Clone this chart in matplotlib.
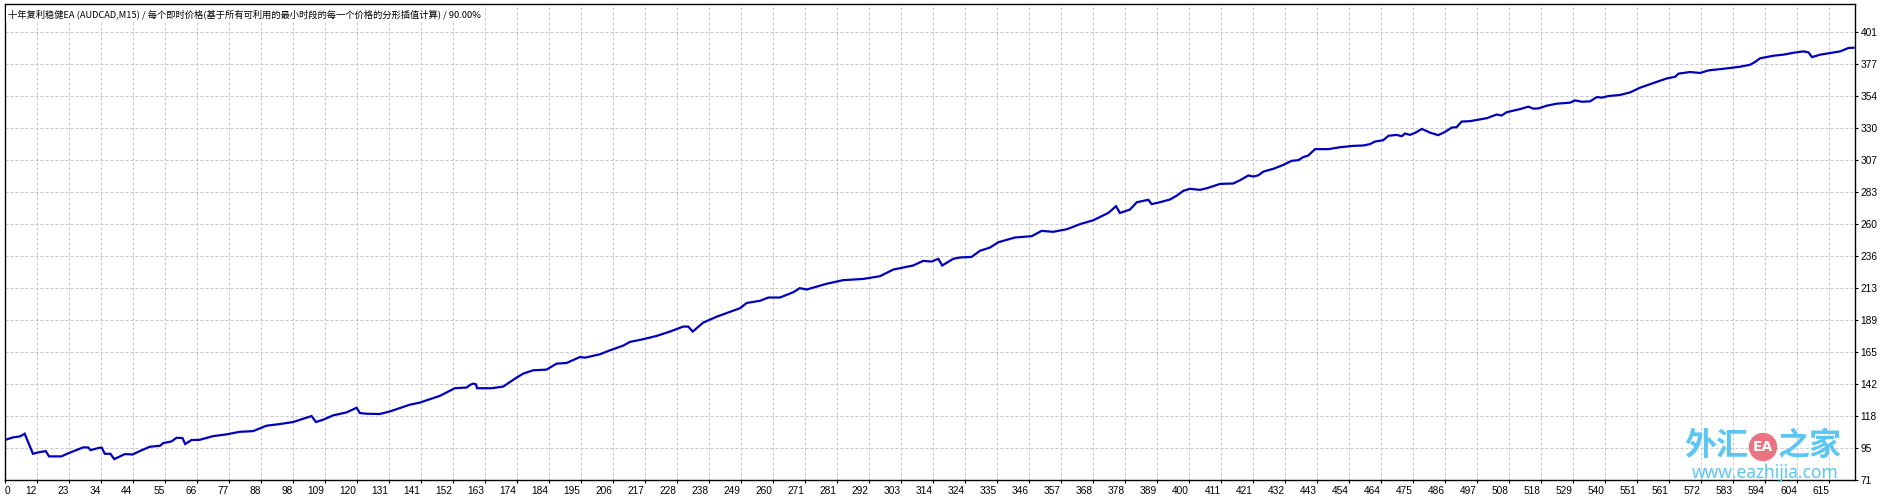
import numpy as np
import matplotlib
matplotlib.use("Agg")
import matplotlib.pyplot as plt
from matplotlib import font_manager
from matplotlib.patches import Ellipse

TITLE = "十年复利稳健EA (AUDCAD,M15) / 每个即时价格(基于所有可利用的最小时段的每一个价格的分形插值计算) / 90.00%"

# balance curve: trade number -> balance
trades = [0, 2.9, 5.2, 6.8, 9.6, 11.3, 13.9, 15.0, 19.2, 21.4, 26.5, 28.2, 29.0, 32.1, 32.8,
          33.8, 35.7, 37.0, 40.6, 43.2, 45.6, 49.0, 52.4, 53.5, 56.3, 58.0, 60.0, 60.9, 63.0,
          65.8, 70.3, 74.8, 79.3, 83.8, 88.3, 92.8, 97.3, 103.5, 105.0, 107.4, 110.8, 115.3,
          118.7, 119.8, 122.1, 126.5, 129.9, 133.3, 136.7, 140.0, 143.4, 146.8, 149.5, 151.8,
          155.8, 156.9, 158.0, 158.9, 159.3, 164.2, 168.1, 172.6, 174.9, 178.2, 182.7, 186.1,
          189.5, 194.0, 195.7, 200.7, 204.1, 208.6, 210.8, 215.3, 219.8, 224.3, 228.8, 230.5,
          232.0, 235.5, 240.1, 244.5, 247.9, 250.2, 254.7, 257.5, 261.4, 265.9, 268.1, 270.4,
          277.1, 282.7, 289.5, 295.1, 297.4, 299.6, 306.3, 309.7, 312.5, 314.8, 316.1, 319.8,
          322.1, 326.0, 328.8, 332.2, 335.0, 340.6, 346.3, 349.6, 353.5, 358.1, 362.5, 367.0,
          372.1, 374.7, 376.0, 379.4, 381.7, 385.6, 386.7, 389.5, 392.9, 395.2, 397.4, 399.6,
          403.0, 405.3, 409.8, 414.2, 416.5, 419.3, 421.0, 422.7, 424.4, 427.7, 431.1, 433.9,
          436.2, 437.8, 439.5, 441.8, 446.3, 450.2, 454.7, 458.1, 460.3, 462.0, 464.8, 466.5,
          469.3, 471.0, 472.1, 473.8, 475.5, 477.8, 480.5, 483.3, 485.6, 487.9, 489.5, 491.2,
          494.0, 499.7, 503.0, 504.7, 506.4, 510.9, 513.7, 515.4, 517.1, 519.9, 523.3, 527.7,
          529.4, 531.7, 534.5, 536.8, 538.4, 540.7, 544.6, 548.0, 551.4, 553.6, 558.1, 560.4,
          563.2, 564.3, 568.2, 571.6, 574.4, 579.5, 585.1, 588.5, 590.1, 591.8, 596.3, 599.7,
          603.1, 606.4, 608.1, 609.3, 612.1, 618.8, 621.6, 623.3]
balance = [100.4, 102.4, 103.1, 105.1, 90.3, 91.3, 92.3, 88.4, 88.4, 90.6, 95.0, 95.0, 93.0, 94.8, 94.8,
           90.3, 90.3, 86.4, 90.1, 89.8, 92.3, 95.5, 96.2, 98.2, 99.4, 102.1, 101.9, 97.5, 100.4,
           100.6, 103.3, 104.6, 106.5, 107.0, 111.0, 112.2, 113.7, 118.1, 113.7, 115.4, 118.6, 120.8,
           124.2, 120.3, 119.8, 119.6, 121.5, 124.0, 126.5, 128.0, 130.5, 133.0, 136.0, 138.6,
           139.1, 141.0, 142.0, 141.5, 138.6, 138.6, 139.8, 146.4, 149.4, 151.8, 152.3, 156.7,
           157.2, 161.6, 161.1, 163.6, 166.5, 170.0, 172.7, 174.7, 177.1, 180.3, 184.0, 184.0,
           180.3, 186.9, 191.3, 194.8, 197.5, 201.4, 203.0, 205.4, 205.4, 209.3, 212.3, 211.3,
           215.5, 218.2, 219.1, 221.1, 223.6, 226.0, 229.0, 232.4, 231.9, 233.9, 229.0, 233.9,
           234.9, 235.3, 239.8, 242.2, 246.1, 249.6, 250.6, 254.5, 253.8, 255.7, 259.4, 262.3,
           267.7, 272.7, 267.7, 270.2, 275.6, 277.4, 274.2, 275.6, 277.6, 280.5, 284.0, 285.5,
           284.7, 285.9, 289.1, 289.4, 291.8, 295.3, 294.5, 295.5, 298.2, 300.2, 303.1, 306.1,
           306.6, 308.8, 310.0, 314.7, 314.7, 316.1, 317.1, 317.4, 318.4, 320.3, 321.3, 324.5,
           325.2, 324.2, 326.2, 325.2, 326.7, 329.6, 326.9, 325.0, 327.4, 330.6, 330.9, 335.0,
           335.3, 337.5, 340.2, 339.5, 341.9, 344.2, 346.0, 344.5, 344.7, 346.7, 348.2, 348.9,
           350.6, 349.6, 349.9, 353.1, 352.6, 353.8, 354.6, 356.5, 360.0, 361.7, 365.1, 366.8,
           368.0, 370.3, 371.5, 370.8, 372.7, 373.9, 375.4, 376.9, 378.9, 381.6, 383.5, 384.3,
           385.7, 386.7, 386.0, 382.5, 384.3, 386.7, 389.2, 389.4]

x_tick_labels = ["0", "12", "23", "34", "44", "55", "66", "77", "88", "98", "109", "120", "131",
                 "141", "152", "163", "174", "184", "195", "206", "217", "228", "238", "249",
                 "260", "271", "281", "292", "303", "314", "324", "335", "346", "357", "368",
                 "378", "389", "400", "411", "421", "432", "443", "454", "464", "475", "486",
                 "497", "508", "518", "529", "540", "551", "561", "572", "583", "594", "604", "615"]
y_tick_labels = ["71", "95", "118", "142", "165", "189", "213", "236", "260", "283", "307",
                 "330", "354", "377", "401"]


def pick_font(names):
    have = {f.name for f in font_manager.fontManager.ttflist}
    for n in names:
        if n in have:
            return n
    return "DejaVu Sans"


tick_font = pick_font(["Liberation Sans Narrow", "DejaVu Sans Condensed", "Liberation Sans"])

W, H = 1900, 498
fig = plt.figure(figsize=(W / 100, H / 100), dpi=100)
ax = fig.add_axes([4.5 / W, 18 / H, (1855 - 4.5) / W, (480 - 4) / H])

ax.plot(trades, balance, color="#0000bb", lw=1.6, solid_joinstyle="miter")

ax.set_xlim(0, 623.8)
ax.set_ylim(71, 421.6)

xt = np.linspace(0, 615, len(x_tick_labels))
yt = np.linspace(71, 401, len(y_tick_labels))
ax.set_xticks(xt)
ax.set_xticklabels(x_tick_labels, fontsize=7.3, family=tick_font)
ax.set_yticks(yt)
ax.set_yticklabels(y_tick_labels, fontsize=7.3, family=tick_font)
for i, lbl in enumerate(ax.get_xticklabels()):
    lbl.set_ha("left" if i == 0 else "right")

ax.yaxis.tick_right()
ax.tick_params(axis="y", length=2.5, width=0.8, pad=1.5, direction="out")
ax.tick_params(axis="x", length=2, width=0.8, pad=2, direction="out")

ax.grid(True, color="#c8c8c8", lw=0.72, linestyle=(0, (3, 2)))
ax.set_axisbelow(True)
for s in ax.spines.values():
    s.set_linewidth(1.0)
    s.set_color("black")

fig.text(8 / W, 1 - 14 / H, TITLE, fontsize=6.7, va="center", ha="left",
         family=["Noto Sans CJK SC", "DejaVu Sans"],
         bbox=dict(facecolor="white", edgecolor="none", pad=1.5))

# watermark
wm_blue = "#5ac6f2"
fig.text(1716 / W, 1 - 446 / H, "外汇", fontsize=23, color=wm_blue, ha="center", va="center",
         family=["Noto Sans CJK SC"], fontweight="bold")
fig.patches.append(Ellipse((1763 / W, 1 - 447 / H), 27 / W, 27 / H,
                           transform=fig.transFigure, color="#ea7382", zorder=5))
fig.text(1763 / W, 1 - 447 / H, "EA", fontsize=10, color="white", ha="center", va="center",
         fontweight="bold", zorder=6)
fig.text(1810 / W, 1 - 446 / H, "之家", fontsize=23, color=wm_blue, ha="center", va="center",
         family=["Noto Sans CJK SC"], fontweight="bold")
fig.text(1765 / W, 1 - 473 / H, "www.eazhijia.com", fontsize=12.5, color=wm_blue,
         ha="center", va="center", family=["Noto Sans"])

fig.savefig("out.png", dpi=100, facecolor="white")
